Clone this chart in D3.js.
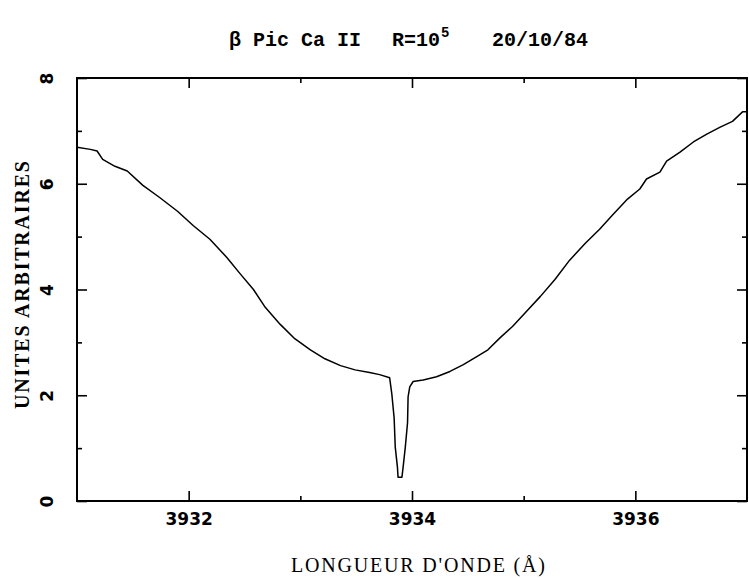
<!DOCTYPE html>
<html>
<head>
<meta charset="utf-8">
<script src="https://cdn.jsdelivr.net/npm/d3@7"></script>
<style>
  body { margin: 0; background: #fff; }
  svg { display: block; }
</style>
</head>
<body>
<div id="content"></div>
<script>
// spectrum: wavelength (A) and intensity (arbitrary units)
const wavelength = [
  3931.00, 3931.12, 3931.18, 3931.23, 3931.34, 3931.45, 3931.59, 3931.74, 3931.90, 3932.04,
  3932.19, 3932.34, 3932.46, 3932.58, 3932.68, 3932.82, 3932.95, 3933.09, 3933.22, 3933.36,
  3933.49, 3933.62, 3933.71, 3933.80, 3933.82, 3933.84, 3933.85, 3933.87, 3933.875, 3933.91,
  3933.92, 3933.94, 3933.96, 3933.965, 3933.98, 3934.01, 3934.10, 3934.22, 3934.34, 3934.46,
  3934.58, 3934.68, 3934.79, 3934.90, 3935.01, 3935.15, 3935.28, 3935.41, 3935.55, 3935.68,
  3935.80, 3935.93, 3936.04, 3936.10, 3936.22, 3936.28, 3936.40, 3936.52, 3936.64, 3936.76,
  3936.87, 3936.96, 3937.00
];
const intensity = [
  6.69, 6.65, 6.62, 6.46, 6.33, 6.24, 5.97, 5.74, 5.48, 5.21,
  4.95, 4.61, 4.30, 4.00, 3.68, 3.34, 3.07, 2.86, 2.69, 2.56,
  2.48, 2.43, 2.39, 2.33, 2.01, 1.57, 1.02, 0.63, 0.45, 0.45,
  0.63, 1.02, 1.48, 1.97, 2.16, 2.26, 2.29, 2.35, 2.45, 2.58,
  2.73, 2.86, 3.09, 3.30, 3.55, 3.87, 4.19, 4.55, 4.87, 5.14,
  5.42, 5.71, 5.90, 6.09, 6.22, 6.43, 6.60, 6.79, 6.94, 7.07,
  7.18, 7.36, 7.36
];
const xMajor = [3932, 3934, 3936];
const xMinor = [3933, 3935];
const yMajor = [0, 2, 4, 6, 8];
const yMinor = [1, 3, 5, 7];

var app = {};
app.width = 749;
app.height = 578;
var plot = { left: 77, right: 747, top: 78, bottom: 501 };

app.x = d3.scaleLinear().domain([3931, 3937]).range([plot.left, plot.right]);
app.y = d3.scaleLinear().domain([0, 8]).range([plot.bottom, plot.top]);

app.svg = d3.select('#content').append('svg')
  .attr('width', app.width)
  .attr('height', app.height);

var tickFont = 'DejaVu Sans, sans-serif';

// title
var title = app.svg.append('g')
  .attr('font-family', 'Liberation Mono, monospace')
  .attr('font-weight', 'bold')
  .attr('font-size', 20)
  .attr('fill', '#000');
title.append('text').attr('x', 229).attr('y', 46).text('\u03b2 Pic Ca II');
var rText = title.append('text').attr('x', 392).attr('y', 46).text('R=10');
var rEnd = 392 + rText.node().getComputedTextLength();
title.append('text').attr('x', rEnd + 1).attr('y', 37).attr('font-size', 14).text('5');
title.append('text').attr('x', 492).attr('y', 46).text('20/10/84');

// bottom axis
app.svg.append('g')
  .attr('transform', `translate(0, ${plot.bottom})`)
  .call(d3.axisBottom(app.x).tickValues(xMajor).tickFormat(d3.format('d'))
    .tickSizeInner(-10).tickSizeOuter(0).tickPadding(12))
  .call(g => g.select('.domain').remove())
  .call(g => g.selectAll('text').attr('font-family', tickFont).attr('font-weight', 'bold')
    .attr('font-size', 17).attr('fill', '#000'));
app.svg.append('g')
  .attr('transform', `translate(0, ${plot.bottom})`)
  .call(d3.axisBottom(app.x).tickValues(xMinor).tickFormat('')
    .tickSizeInner(-5).tickSizeOuter(0))
  .call(g => g.select('.domain').remove());

// top axis
app.svg.append('g')
  .attr('transform', `translate(0, ${plot.top})`)
  .call(d3.axisTop(app.x).tickValues(xMajor).tickFormat('')
    .tickSizeInner(-10).tickSizeOuter(0))
  .call(g => g.select('.domain').remove());
app.svg.append('g')
  .attr('transform', `translate(0, ${plot.top})`)
  .call(d3.axisTop(app.x).tickValues(xMinor).tickFormat('')
    .tickSizeInner(-5).tickSizeOuter(0))
  .call(g => g.select('.domain').remove());

// left axis, labels turned on their side
app.svg.append('g')
  .attr('transform', `translate(${plot.left}, 0)`)
  .call(d3.axisLeft(app.y).tickValues(yMajor).tickFormat(d3.format('d'))
    .tickSizeInner(-10).tickSizeOuter(0))
  .call(g => g.select('.domain').remove())
  .call(g => g.selectAll('text')
    .attr('x', null).attr('dy', '0.36em')
    .attr('text-anchor', 'middle')
    .attr('transform', 'translate(-30, 0) rotate(-90)')
    .attr('font-family', tickFont).attr('font-weight', 'bold')
    .attr('font-size', 17).attr('fill', '#000'));
app.svg.append('g')
  .attr('transform', `translate(${plot.left}, 0)`)
  .call(d3.axisLeft(app.y).tickValues(yMinor).tickFormat('')
    .tickSizeInner(-5).tickSizeOuter(0))
  .call(g => g.select('.domain').remove());

// right axis
app.svg.append('g')
  .attr('transform', `translate(${plot.right}, 0)`)
  .call(d3.axisRight(app.y).tickValues(yMajor).tickFormat('')
    .tickSizeInner(-10).tickSizeOuter(0))
  .call(g => g.select('.domain').remove());
app.svg.append('g')
  .attr('transform', `translate(${plot.right}, 0)`)
  .call(d3.axisRight(app.y).tickValues(yMinor).tickFormat('')
    .tickSizeInner(-5).tickSizeOuter(0))
  .call(g => g.select('.domain').remove());

app.svg.selectAll('.tick line').attr('stroke', '#000').attr('stroke-width', 1.6);

// frame
app.svg.append('rect')
  .attr('x', plot.left).attr('y', plot.top)
  .attr('width', plot.right - plot.left).attr('height', plot.bottom - plot.top)
  .attr('fill', 'none').attr('stroke', '#000').attr('stroke-width', 2);

// spectrum
app.data = wavelength.map((w, i) => ({ w: w, v: intensity[i] }));
app.line = d3.line()
  .x(d => app.x(d.w))
  .y(d => app.y(d.v));
app.svg.append('path')
  .datum(app.data)
  .attr('d', app.line)
  .attr('fill', 'none')
  .attr('stroke', '#000')
  .attr('stroke-width', 1.5)
  .attr('stroke-linejoin', 'round');

// axis titles
app.svg.append('text')
  .attr('x', 418).attr('y', 572)
  .attr('text-anchor', 'middle')
  .attr('font-family', 'Liberation Serif, serif')
  .attr('font-size', 20)
  .attr('textLength', 254)
  .attr('lengthAdjust', 'spacing')
  .attr('fill', '#000')
  .text("LONGUEUR D'ONDE (\u00c5)");

app.svg.append('text')
  .attr('transform', 'translate(29, 285) rotate(-90)')
  .attr('text-anchor', 'middle')
  .attr('font-family', 'Liberation Serif, serif')
  .attr('font-weight', 'bold')
  .attr('font-size', 20)
  .attr('textLength', 248)
  .attr('lengthAdjust', 'spacing')
  .attr('fill', '#000')
  .text('UNITES ARBITRAIRES');
</script>
</body>
</html>
